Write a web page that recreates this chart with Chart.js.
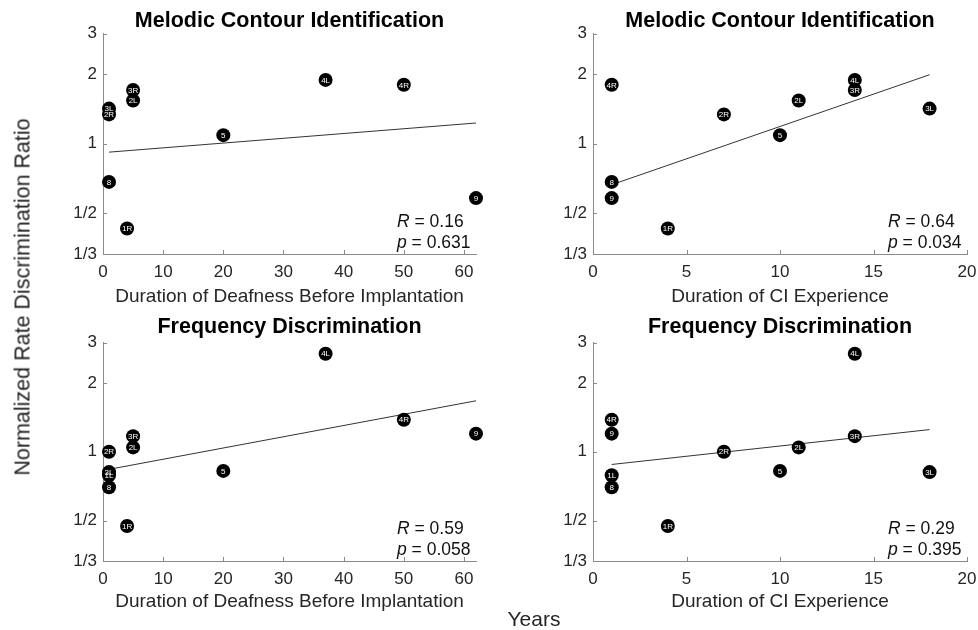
<!DOCTYPE html>
<html>
<head>
<meta charset="utf-8">
<script src="https://cdn.jsdelivr.net/npm/chart.js@4.4.1/dist/chart.umd.min.js"></script>
<style>
body { margin: 0; background: #fff; width: 978px; height: 630px; position: relative; overflow: hidden; font-family: "Liberation Sans", Arial, sans-serif; }
.panel { position: absolute; }
#ylab { position: absolute; left: 23px; top: 297px; transform: translate(-50%, -50%) rotate(-90deg); font-size: 21.5px; white-space: nowrap; color: #262626; }
#xlab { position: absolute; left: 534px; top: 619px; transform: translate(-50%, -50%); font-size: 21px; color: #262626; }
</style>
</head>
<body>
<div class="panel" style="left:0;top:0;width:490px;height:308px"><canvas id="mciDeaf"></canvas></div>
<div class="panel" style="left:490px;top:0;width:488px;height:308px"><canvas id="mciExp"></canvas></div>
<div class="panel" style="left:0;top:306px;width:490px;height:307px"><canvas id="fdDeaf"></canvas></div>
<div class="panel" style="left:490px;top:306px;width:488px;height:307px"><canvas id="fdExp"></canvas></div>
<div id="ylab">Normalized Rate Discrimination Ratio</div>
<div id="xlab">Years</div>
<script>
// y axis (log), shared by all four panels
const yTicks = [1/3, 1/2, 1, 2, 3];
const yTickLabels = ['1/3', '1/2', '1', '2', '3'];
const deafTicks = [0, 10, 20, 30, 40, 50, 60];
const expTicks = [0, 5, 10, 15, 20];

// Melodic contour identification
const mciLabels = ['1R', '2L', '2R', '3L', '3R', '4L', '4R', '5', '8', '9'];
const mciRatio = [0.43, 1.54, 1.34, 1.42, 1.71, 1.89, 1.80, 1.09, 0.684, 0.582];
const mciDeafness = [4, 5, 1, 1, 5, 37, 50, 20, 1, 62];
const mciExperience = [4, 11, 7, 18, 14, 14, 1, 10, 1, 1];
const mciDeafFitX = [1, 62], mciDeafFitY = [0.92, 1.23];
const mciExpFitX = [1, 18], mciExpFitY = [0.665, 1.99];

// Frequency discrimination
const fdLabels = ['1L', '1R', '2L', '2R', '3L', '3R', '4L', '4R', '5', '8', '9'];
const fdRatio = [0.79, 0.474, 1.045, 1.0, 0.815, 1.17, 2.68, 1.38, 0.825, 0.70, 1.20];
const fdDeafness = [1, 4, 5, 1, 1, 5, 37, 50, 20, 1, 62];
const fdExperience = [1, 4, 11, 7, 18, 14, 14, 1, 10, 1, 1];
const fdDeafFitX = [1, 62], fdDeafFitY = [0.838, 1.67];
const fdExpFitX = [1, 18], fdExpFitY = [0.88, 1.25];

Chart.defaults.font.family = '"Liberation Sans", Arial, sans-serif';
Chart.defaults.color = '#262626';
const axisColor = '#8a8a8a';

// inward tick marks, white labels inside the dots, R / p text
const decor = {
    id: 'decor',
    beforeDatasetsDraw(chart) {
        const ctx = chart.ctx, a = chart.chartArea;
        const xs = chart.scales.x, ys = chart.scales.y;
        ctx.save();
        ctx.strokeStyle = axisColor;
        ctx.lineWidth = 1;
        ctx.beginPath();
        xs.ticks.forEach(t => {
            const px = Math.round(xs.getPixelForValue(t.value)) + 0.5;
            ctx.moveTo(px, a.bottom);
            ctx.lineTo(px, a.bottom - 4);
        });
        ys.ticks.forEach(t => {
            const py = Math.round(ys.getPixelForValue(t.value)) + 0.5;
            ctx.moveTo(a.left, py);
            ctx.lineTo(a.left + 4, py);
        });
        ctx.stroke();
        ctx.restore();
    },
    afterDatasetsDraw(chart, args, opts) {
        const ctx = chart.ctx, a = chart.chartArea;
        const meta = chart.getDatasetMeta(0);
        ctx.save();
        ctx.fillStyle = '#fff';
        ctx.font = '8px "Liberation Sans", Arial, sans-serif';
        ctx.textAlign = 'center';
        ctx.textBaseline = 'middle';
        meta.data.forEach((pt, i) => ctx.fillText(opts.labels[i], pt.x, pt.y + 0.5));
        // statistics
        ctx.fillStyle = '#111';
        ctx.textAlign = 'left';
        ctx.textBaseline = 'alphabetic';
        const x0 = a.right - 79;
        [['R', opts.r, 27.5], ['p', opts.p, 6.5]].forEach(([sym, val, off]) => {
            ctx.font = 'italic 17.5px "Liberation Sans", Arial, sans-serif';
            ctx.fillText(sym, x0, a.bottom - off);
            const w = ctx.measureText(sym).width;
            ctx.font = '17.5px "Liberation Sans", Arial, sans-serif';
            ctx.fillText(' = ' + val, x0 + w, a.bottom - off);
        });
        ctx.restore();
    }
};

function makeChart(id, cfg) {
    const points = cfg.xs.map((x, i) => ({x: x, y: cfg.ys[i]}));
    const fit = cfg.fitX.map((x, i) => ({x: x, y: cfg.fitY[i]}));
    return new Chart(document.getElementById(id), {
        type: 'scatter',
        data: {
            datasets: [{
                data: points,
                pointRadius: 7,
                pointHoverRadius: 7,
                backgroundColor: '#000',
                borderColor: '#000',
                borderWidth: 0,
                clip: false
            }, {
                type: 'line',
                data: fit,
                borderColor: '#333',
                borderWidth: 1,
                pointRadius: 0,
                fill: false,
                clip: false
            }]
        },
        options: {
            responsive: true,
            maintainAspectRatio: false,
            animation: false,
            events: [],
            layout: { padding: { top: 0, right: cfg.padRight, bottom: 0, left: 0 } },
            plugins: {
                legend: { display: false },
                tooltip: { enabled: false },
                title: {
                    display: true,
                    text: cfg.title,
                    fullSize: false,
                    color: '#000',
                    font: { size: 21.5, weight: 'bold', lineHeight: 1.1 },
                    padding: cfg.titlePad
                },
                decor: { labels: cfg.labels, r: cfg.r, p: cfg.p }
            },
            scales: {
                x: {
                    type: 'linear',
                    min: 0,
                    max: cfg.xMax,
                    afterBuildTicks: s => { s.ticks = cfg.xTicks.map(v => ({value: v})); s.min = 0; s.max = cfg.xMax; },
                    afterFit: s => { s.height = cfg.xHeight; s.paddingLeft = 0; s.paddingRight = 0; },
                    grid: { display: true, drawOnChartArea: false, drawTicks: false },
                    border: { display: true, color: axisColor, width: 1 },
                    ticks: { padding: 8, font: { size: 17 }, maxRotation: 0 },
                    title: { display: true, text: cfg.xTitle, font: { size: 19 }, padding: { top: 0, bottom: 0 }, color: '#262626' }
                },
                y: {
                    type: 'logarithmic',
                    bounds: 'data',
                    min: 1/3,
                    max: 3,
                    afterBuildTicks: s => { s.ticks = yTicks.map(v => ({value: v})); s.min = 1/3; s.max = 3; },
                    afterFit: s => { s.width = 103; s.paddingTop = 0; s.paddingBottom = 0; },
                    grid: { display: true, drawOnChartArea: false, drawTicks: false },
                    border: { display: true, color: axisColor, width: 1 },
                    ticks: {
                        padding: 6,
                        font: { size: 17 },
                        callback: (v, i) => yTickLabels[yTicks.findIndex(t => Math.abs(t - v) < 1e-6)]
                    }
                }
            }
        },
        plugins: [decor]
    });
}

makeChart('mciDeaf', {
    title: 'Melodic Contour Identification', xTitle: 'Duration of Deafness Before Implantation',
    xs: mciDeafness, ys: mciRatio, labels: mciLabels, fitX: mciDeafFitX, fitY: mciDeafFitY,
    xMax: 62, xTicks: deafTicks, r: '0.16', p: '0.631',
    padRight: 14, xHeight: 54, titlePad: { top: 9.45, bottom: 0.45 }
});
makeChart('mciExp', {
    title: 'Melodic Contour Identification', xTitle: 'Duration of CI Experience',
    xs: mciExperience, ys: mciRatio, labels: mciLabels, fitX: mciExpFitX, fitY: mciExpFitY,
    xMax: 20, xTicks: expTicks, r: '0.64', p: '0.034',
    padRight: 11, xHeight: 54, titlePad: { top: 9.45, bottom: 0.45 }
});
makeChart('fdDeaf', {
    title: 'Frequency Discrimination', xTitle: 'Duration of Deafness Before Implantation',
    xs: fdDeafness, ys: fdRatio, labels: fdLabels, fitX: fdDeafFitX, fitY: fdDeafFitY,
    xMax: 62, xTicks: deafTicks, r: '0.59', p: '0.058',
    padRight: 14, xHeight: 52, titlePad: { top: 9.45, bottom: 3.45 }
});
makeChart('fdExp', {
    title: 'Frequency Discrimination', xTitle: 'Duration of CI Experience',
    xs: fdExperience, ys: fdRatio, labels: fdLabels, fitX: fdExpFitX, fitY: fdExpFitY,
    xMax: 20, xTicks: expTicks, r: '0.29', p: '0.395',
    padRight: 11, xHeight: 52, titlePad: { top: 9.45, bottom: 3.45 }
});
</script>
</body>
</html>
